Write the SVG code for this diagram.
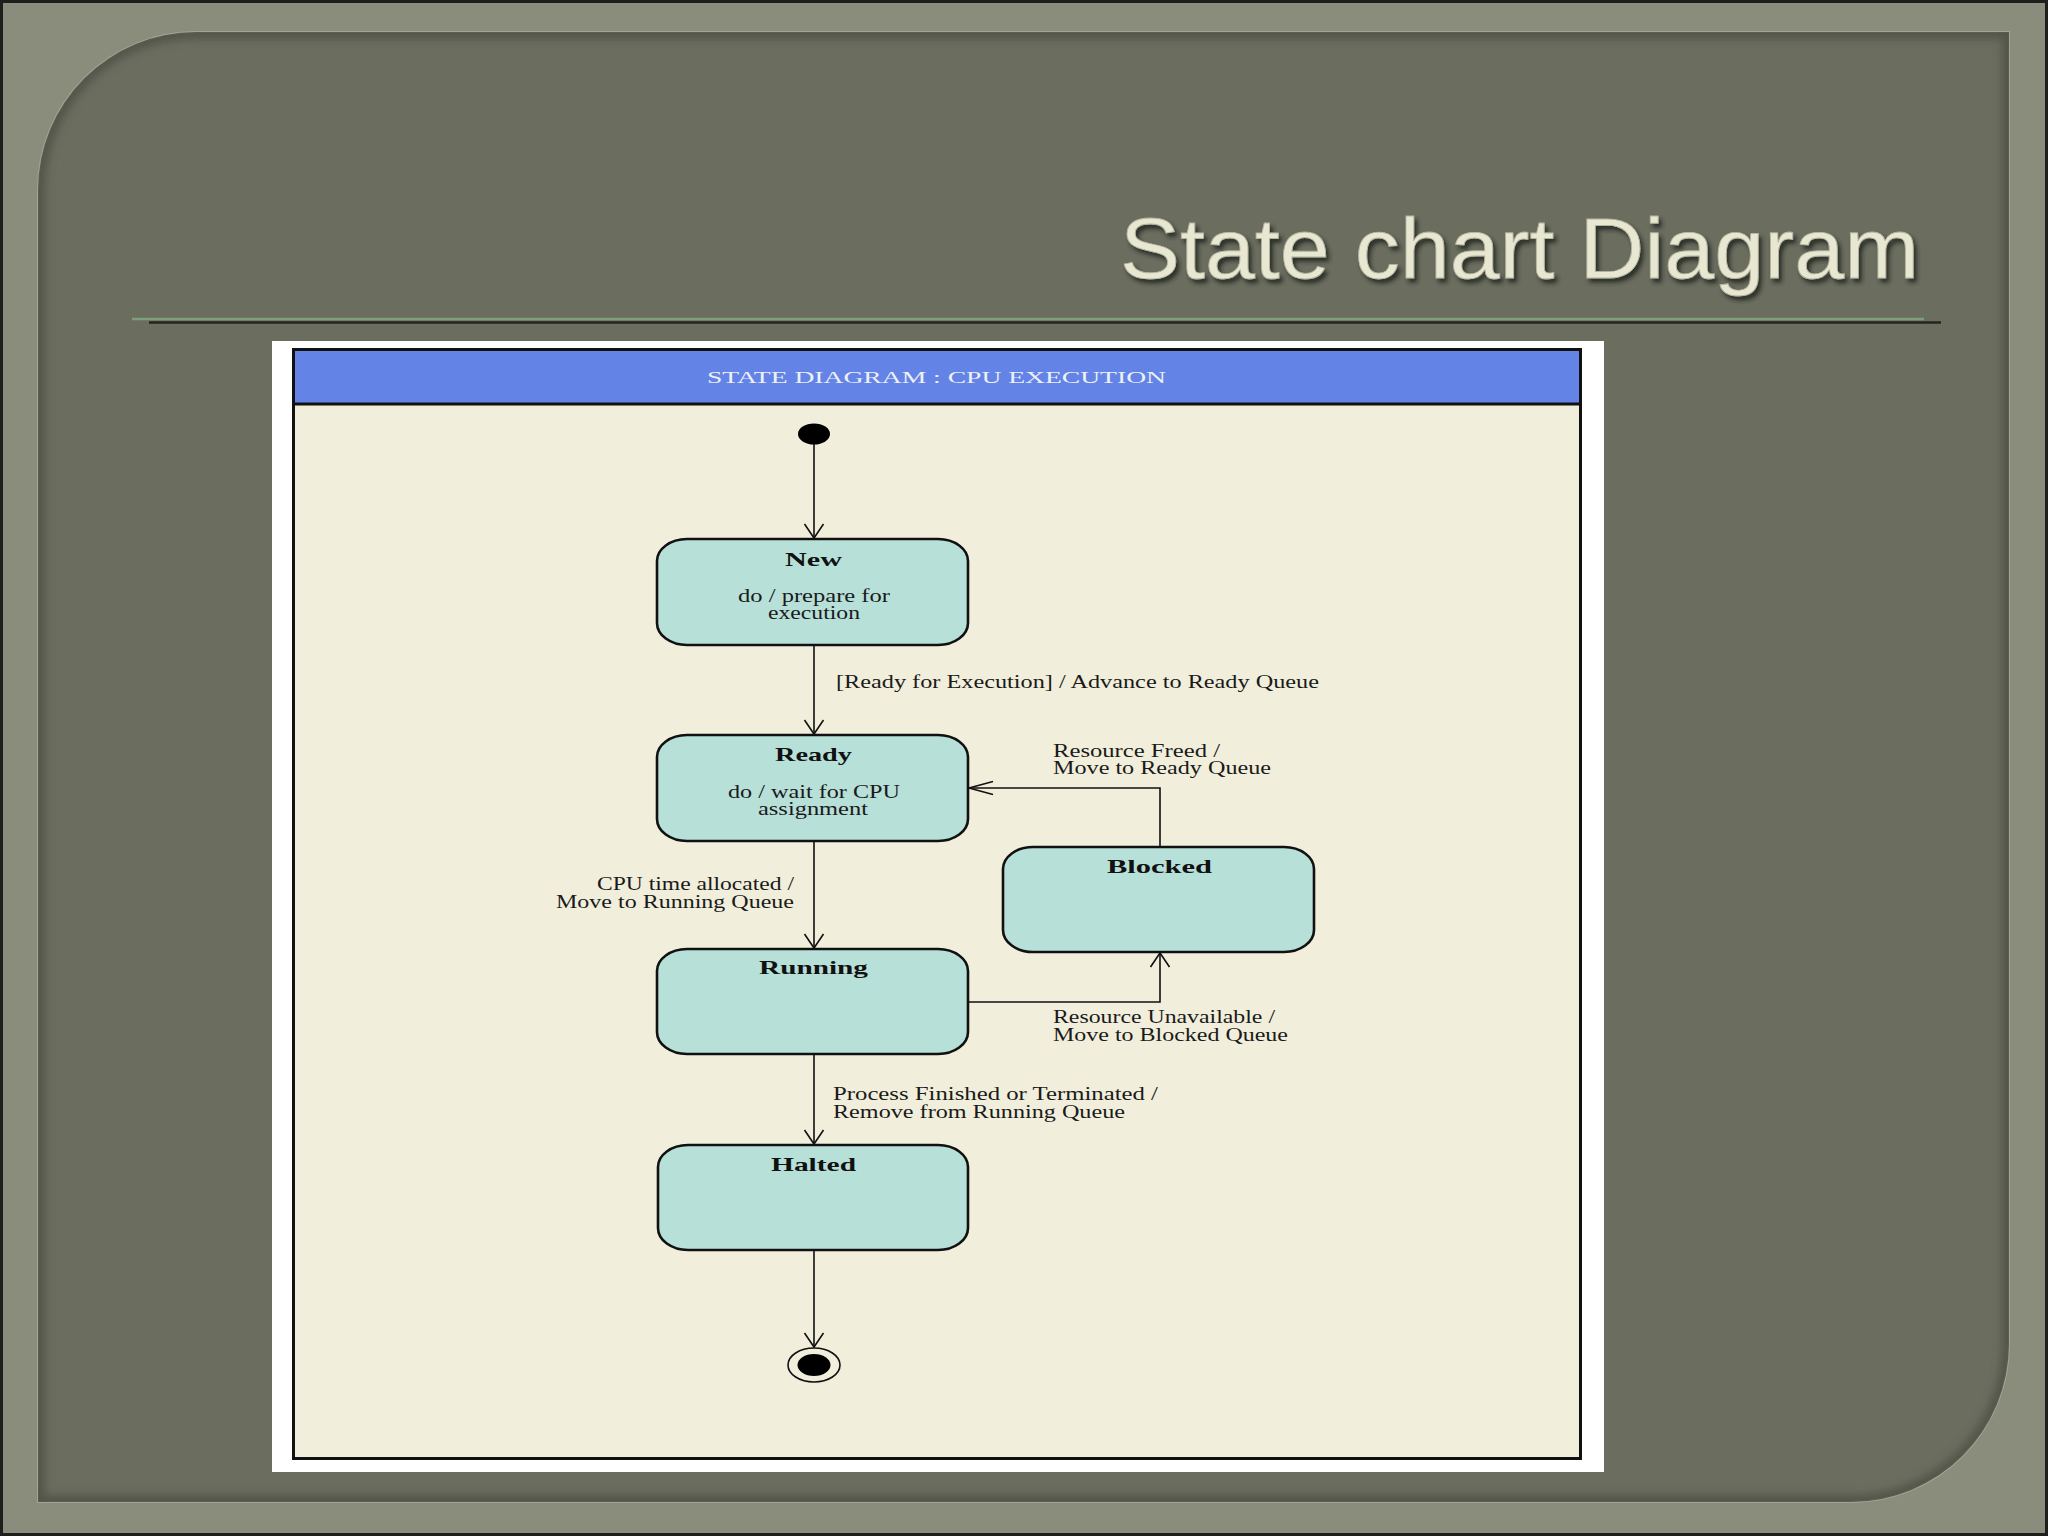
<svg xmlns="http://www.w3.org/2000/svg" width="2048" height="1536" viewBox="0 0 2048 1536">
  <defs>
    <style>
      .node rect { fill: #b7e0d9; stroke: #111; stroke-width: 2.6; }
      .ttl { font-family: "Liberation Serif", "Times New Roman", serif; font-weight: bold; font-size: 19px; fill: #111; }
      .txt { font-family: "Liberation Serif", "Times New Roman", serif; font-size: 18px; fill: #1a1a1a; }
      .conn path, .conn line { fill: none; stroke: #111; stroke-width: 1.6; }
    </style>
    <marker id="arrV" markerUnits="userSpaceOnUse" viewBox="-16 -12 18 24" markerWidth="18" markerHeight="24" refX="0" refY="0" orient="auto" overflow="visible">
      <path d="M -14,-9.5 L 0,0 L -14,9.5" fill="none" stroke="#111" stroke-width="1.6"/>
    </marker>
    <marker id="arrH" markerUnits="userSpaceOnUse" viewBox="-26 -8 28 16" markerWidth="28" markerHeight="16" refX="0" refY="0" orient="auto" overflow="visible">
      <path d="M -24,-6.5 L 0,0 L -24,6.5" fill="none" stroke="#111" stroke-width="1.6"/>
    </marker>
    <clipPath id="panelClip">
      <path d="M 198,32 H 2009 V 1344 A 158 158 0 0 1 1851,1502 H 38 V 190 A 158 158 0 0 1 196,32 Z"/>
    </clipPath>
    <filter id="blur4" x="-5%" y="-5%" width="110%" height="110%">
      <feGaussianBlur stdDeviation="4"/>
    </filter>
    <filter id="titleShadow" x="-5%" y="-20%" width="110%" height="150%">
      <feDropShadow dx="3" dy="4" stdDeviation="2.2" flood-color="#23251d" flood-opacity="0.85"/>
    </filter>
  </defs>

  <!-- slide background -->
  <rect x="0" y="0" width="2048" height="1536" fill="#8a8c7c"/>
  <rect x="1.5" y="1.5" width="2045" height="1533" fill="none" stroke="#1e1e1c" stroke-width="3"/>

  <!-- rounded panel -->
  <path d="M 196,32 H 2009 V 1344 A 158 158 0 0 1 1851,1502 H 38 V 190 A 158 158 0 0 1 196,32 Z" fill="#6b6d5f" stroke="#a3a593" stroke-width="2"/>
  <g clip-path="url(#panelClip)">
    <path d="M 196,32 H 2009 V 1344 A 158 158 0 0 1 1851,1502 H 38 V 190 A 158 158 0 0 1 196,32 Z" fill="none" stroke="#53554a" stroke-width="14" filter="url(#blur4)"/>
  </g>

  <!-- slide title -->
  <text x="1120" y="278" font-family="'Liberation Sans', Arial, sans-serif" font-size="86" fill="#e7e7d2" stroke="#b5b59f" stroke-width="0.8" textLength="799" lengthAdjust="spacingAndGlyphs" filter="url(#titleShadow)">State chart Diagram</text>

  <!-- rule under title -->
  <line x1="132" y1="319" x2="1924" y2="319" stroke="#7f9f7c" stroke-width="2.5"/>
  <line x1="149" y1="322.5" x2="1941" y2="322.5" stroke="#23251e" stroke-width="2.5"/>

  <!-- diagram picture frame -->
  <rect x="272" y="341" width="1332" height="1131" fill="#ffffff"/>
  <rect x="293.5" y="349.5" width="1287" height="1109" fill="#f1efdc" stroke="#111" stroke-width="3"/>
  <rect x="295" y="351" width="1284" height="52" fill="#6384e6"/>
  <line x1="293" y1="404" x2="1581" y2="404" stroke="#111" stroke-width="3"/>
  <text x="707" y="383" font-family="'Liberation Serif', 'Times New Roman', serif" font-size="16" fill="#eef0f6" textLength="459" lengthAdjust="spacingAndGlyphs">STATE DIAGRAM : CPU EXECUTION</text>

  <!-- connectors -->
  <g id="connectors" class="conn">
    <line x1="814" y1="444" x2="814" y2="538" marker-end="url(#arrV)"/>
    <line x1="814" y1="645" x2="814" y2="734" marker-end="url(#arrV)"/>
    <line x1="814" y1="841" x2="814" y2="948" marker-end="url(#arrV)"/>
    <path d="M 968,1002 H 1160 V 953" marker-end="url(#arrV)"/>
    <path d="M 1160,847 V 788 H 969" marker-end="url(#arrH)"/>
    <line x1="814" y1="1054" x2="814" y2="1144" marker-end="url(#arrV)"/>
    <line x1="814" y1="1250" x2="814" y2="1347" marker-end="url(#arrV)"/>

    <text class="txt" x="836" y="688" textLength="483" lengthAdjust="spacingAndGlyphs">[Ready for Execution] / Advance to Ready Queue</text>
    <text class="txt" x="1053" y="757" textLength="167" lengthAdjust="spacingAndGlyphs">Resource Freed /</text>
    <text class="txt" x="1053" y="774" textLength="218" lengthAdjust="spacingAndGlyphs">Move to Ready Queue</text>
    <text class="txt" x="597" y="890" textLength="197" lengthAdjust="spacingAndGlyphs">CPU time allocated /</text>
    <text class="txt" x="556" y="908" textLength="238" lengthAdjust="spacingAndGlyphs">Move to Running Queue</text>
    <text class="txt" x="1053" y="1023" textLength="222" lengthAdjust="spacingAndGlyphs">Resource Unavailable /</text>
    <text class="txt" x="1053" y="1041" textLength="235" lengthAdjust="spacingAndGlyphs">Move to Blocked Queue</text>
    <text class="txt" x="833" y="1100" textLength="325" lengthAdjust="spacingAndGlyphs">Process Finished or Terminated /</text>
    <text class="txt" x="833" y="1118" textLength="292" lengthAdjust="spacingAndGlyphs">Remove from Running Queue</text>
  </g>

  <!-- nodes -->
  <g id="initial">
    <ellipse cx="814" cy="434" rx="16" ry="10.5" fill="#000"/>
  </g>

  <g id="new" class="node">
    <rect x="657" y="539" width="311" height="106" rx="30" ry="22"/>
    <text class="ttl" x="785" y="566" textLength="57" lengthAdjust="spacingAndGlyphs">New</text>
    <text class="txt" x="738" y="602" textLength="152" lengthAdjust="spacingAndGlyphs">do / prepare for</text>
    <text class="txt" x="768" y="619" textLength="92" lengthAdjust="spacingAndGlyphs">execution</text>
  </g>

  <g id="ready" class="node">
    <rect x="657" y="735" width="311" height="106" rx="30" ry="22"/>
    <text class="ttl" x="775" y="761" textLength="77" lengthAdjust="spacingAndGlyphs">Ready</text>
    <text class="txt" x="728" y="798" textLength="172" lengthAdjust="spacingAndGlyphs">do / wait for CPU</text>
    <text class="txt" x="758" y="815" textLength="110" lengthAdjust="spacingAndGlyphs">assignment</text>
  </g>

  <g id="blocked" class="node">
    <rect x="1003" y="847" width="311" height="105" rx="30" ry="22"/>
    <text class="ttl" x="1107" y="873" textLength="105" lengthAdjust="spacingAndGlyphs">Blocked</text>
  </g>

  <g id="running" class="node">
    <rect x="657" y="949" width="311" height="105" rx="30" ry="22"/>
    <text class="ttl" x="759" y="974" textLength="109" lengthAdjust="spacingAndGlyphs">Running</text>
  </g>

  <g id="halted" class="node">
    <rect x="658" y="1145" width="310" height="105" rx="30" ry="22"/>
    <text class="ttl" x="771" y="1171" textLength="85" lengthAdjust="spacingAndGlyphs">Halted</text>
  </g>

  <g id="final">
    <ellipse cx="814" cy="1365" rx="26" ry="17" fill="#f1efdc" stroke="#111" stroke-width="1.6"/>
    <ellipse cx="814" cy="1365" rx="16.5" ry="11" fill="#000"/>
  </g>
</svg>
